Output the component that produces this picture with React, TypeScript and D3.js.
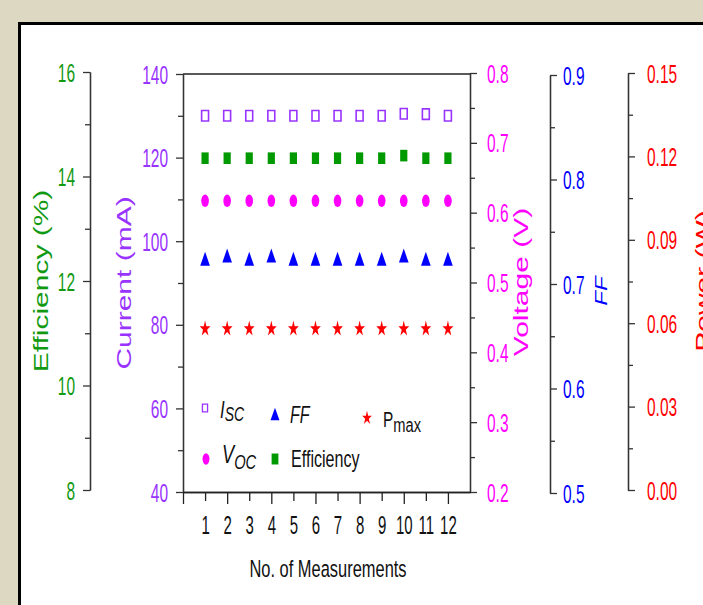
import { useEffect, useRef } from 'react';
import * as d3 from 'd3';

// readings for the 12 measurements
const measurements = [1, 2, 3, 4, 5, 6, 7, 8, 9, 10, 11, 12];
const isc = [130, 130, 130, 130, 130, 130, 130, 130, 130, 130.5, 130.4, 130];
const efficiency = [14.35, 14.35, 14.35, 14.35, 14.35, 14.35, 14.35, 14.35, 14.35, 14.4, 14.35, 14.35];
const voc = [0.617, 0.617, 0.617, 0.617, 0.617, 0.617, 0.617, 0.617, 0.617, 0.617, 0.617, 0.617];
const ff = [0.722, 0.725, 0.722, 0.725, 0.722, 0.722, 0.722, 0.722, 0.722, 0.725, 0.722, 0.722];
const pmax = [0.058, 0.058, 0.058, 0.058, 0.058, 0.058, 0.058, 0.058, 0.058, 0.058, 0.058, 0.058];

// tick values
const effTicks = [8, 10, 12, 14, 16];
const effMinor = [9, 11, 13, 15];
const currentTicks = [40, 60, 80, 100, 120, 140];
const currentMinor = [50, 70, 90, 110, 130];
const voltTicks = [0.2, 0.3, 0.4, 0.5, 0.6, 0.7, 0.8];
const voltMinor = [0.25, 0.35, 0.45, 0.55, 0.65, 0.75];
const ffTicks = [0.5, 0.6, 0.7, 0.8, 0.9];
const ffMinor = [0.55, 0.65, 0.75, 0.85];
const powerTicks = [0, 0.03, 0.06, 0.09, 0.12, 0.15];
const powerMinor = [0.015, 0.045, 0.075, 0.105, 0.135];
const xMajor = [0, 2, 4, 6, 8, 10, 12];
const xMinor = [1, 3, 5, 7, 9, 11];

const FONT = 'Liberation Sans, Arial, sans-serif';
const GREEN = '#119911';
const PURPLE = '#9933ff';
const MAGENTA = '#ff00ff';
const BLUE = '#0000ff';
const RED = '#ff0000';

const x = d3.scaleLinear().domain([0, 13]).range([183, 470]);
const yEff = d3.scaleLinear().domain([8, 16]).range([490, 72]);
const yCur = d3.scaleLinear().domain([40, 140]).range([492, 74]);
const yVolt = d3.scaleLinear().domain([0.2, 0.8]).range([492, 73]);
const yFF = d3.scaleLinear().domain([0.5, 0.9]).range([493, 75]);
const yPow = d3.scaleLinear().domain([0, 0.15]).range([490, 73]);

const sym = (type: d3.SymbolType, size: number) => d3.symbol().type(type).size(size)() as string;

const App = () => {
  const svgRef = useRef<SVGSVGElement>(null);

  useEffect(() => {
    const svg = d3.select(svgRef.current);

    const drawY = (cls: string, side: 'left' | 'right', scale: any, xPos: number, major: number[], minor: number[],
      fmt: (d: any) => string, color: string, labelDx: number) => {
      const axisFn = side === 'left' ? d3.axisLeft : d3.axisRight;
      const g = svg.select(cls).attr('transform', `translate(${xPos},0)`);
      g.selectAll('*').remove();
      g.append('g').call(axisFn(scale).tickValues(minor).tickSize(5).tickSizeOuter(0).tickFormat(() => ''));
      const mg = g.append('g').call(axisFn(scale).tickValues(major).tickSize(7).tickSizeOuter(0).tickFormat(fmt));
      g.selectAll('.domain').attr('stroke', '#333').attr('stroke-width', 1.3);
      g.selectAll('.tick line').attr('stroke', '#333').attr('stroke-width', 1.3);
      mg.selectAll('.tick text')
        .attr('x', 0)
        .attr('dy', '0.36em')
        .attr('fill', color)
        .attr('font-size', 25)
        .attr('font-family', FONT)
        .attr('text-anchor', side === 'left' ? 'end' : 'start')
        .attr('transform', `translate(${labelDx},0) scale(0.62,1)`);
    };

    drawY('.eff-axis', 'left', yEff, 90, effTicks, effMinor, (d) => String(d), GREEN, -15);
    drawY('.cur-axis', 'left', yCur, 183, currentTicks, currentMinor, (d) => String(d), PURPLE, -15);
    drawY('.volt-axis', 'right', yVolt, 470, voltTicks, voltMinor, d3.format('.1f'), MAGENTA, 17);
    drawY('.ff-axis', 'right', yFF, 550, ffTicks, ffMinor, d3.format('.1f'), BLUE, 13);
    drawY('.pow-axis', 'right', yPow, 628, powerTicks, powerMinor, d3.format('.2f'), RED, 19);

    const gx = svg.select('.x-axis').attr('transform', `translate(0,${yCur(40)})`);
    gx.selectAll('*').remove();
    const minorX = gx.append('g').call(d3.axisBottom(x).tickValues(xMinor).tickSize(9).tickSizeOuter(0).tickFormat((d) => String(d)));
    const majorX = gx.append('g').call(d3.axisBottom(x).tickValues(xMajor).tickSize(12).tickSizeOuter(0)
      .tickFormat((d) => (d === 0 ? '' : String(d))));
    gx.selectAll('.domain').attr('stroke', '#222').attr('stroke-width', 1.5);
    gx.selectAll('.tick line').attr('stroke', '#222').attr('stroke-width', 1.3);
    [minorX, majorX].forEach((g) =>
      g.selectAll('.tick text')
        .attr('y', 0)
        .attr('dy', 0)
        .attr('fill', '#111')
        .attr('font-size', 25)
        .attr('font-family', FONT)
        .attr('text-anchor', 'middle')
        .attr('transform', 'translate(0,42) scale(0.6,1)')
    );
  }, []);

  const rotLabel = (text: string, bx: number, cy: number, color: string, size = 30, italic = false) => (
    <text
      transform={`translate(${bx},${cy}) rotate(-90) scale(1,0.7)`}
      textAnchor="middle"
      fill={color}
      fontSize={size}
      fontStyle={italic ? 'italic' : 'normal'}
      fontFamily={FONT}
    >
      {text}
    </text>
  );

  return (
    <svg ref={svgRef} width={703} height={605} style={{ position: 'absolute', left: 0, top: 0 }}>
      <rect x={0} y={0} width={703} height={605} fill="#ddd8c2" />
      <rect x={19.5} y={23.5} width={800} height={800} fill="#fff" stroke="#000" strokeWidth={3} />

      <line x1={x(0)} x2={x(13)} y1={yCur(140)} y2={yCur(140)} stroke="#222" strokeWidth={1.5} />

      <g className="eff-axis" />
      <g className="cur-axis" />
      <g className="volt-axis" />
      <g className="ff-axis" />
      <g className="pow-axis" />
      <g className="x-axis" />

      {/* marks */}
      {measurements.map((m, i) => (
        <g key={m}>
          <path d={sym(d3.symbolSquare, 110)} transform={`translate(${x(m)},${yCur(isc[i])}) scale(0.66,1)`}
            fill="#fff" stroke={PURPLE} strokeWidth={1.6} vectorEffect="non-scaling-stroke" />
          <path d={sym(d3.symbolSquare, 135)} transform={`translate(${x(m)},${yEff(efficiency[i])}) scale(0.62,1)`} fill="#009900" />
          <path d={sym(d3.symbolCircle, 120)} transform={`translate(${x(m)},${yVolt(voc[i])}) scale(0.62,1)`} fill={MAGENTA} />
          <path d={sym(d3.symbolTriangle, 112)} transform={`translate(${x(m)},${yFF(ff[i])}) scale(0.6,1)`} fill={BLUE} />
          <path d={sym(d3.symbolStar, 78)} transform={`translate(${x(m)},${yPow(pmax[i])}) scale(0.68,1)`} fill={RED} />
        </g>
      ))}

      {/* legend */}
      <g fontFamily={FONT} fill="#111">
        <path d={sym(d3.symbolSquare, 60)} transform="translate(205,408) scale(0.66,1)" fill="#fff" stroke={PURPLE}
          strokeWidth={1.3} vectorEffect="non-scaling-stroke" />
        <g transform="translate(220,418) scale(0.7,1)">
          <text fontStyle="italic" fontSize={24}>I<tspan fontSize={20} dy={3}>SC</tspan></text>
        </g>
        <path d={sym(d3.symbolCircle, 100)} transform="translate(206,459) scale(0.62,1)" fill={MAGENTA} />
        <g transform="translate(222,463) scale(0.7,1)">
          <text fontStyle="italic" fontSize={26}>V<tspan fontSize={21} dy={6}>OC</tspan></text>
        </g>
        <path d={sym(d3.symbolTriangle, 90)} transform="translate(275,416) scale(0.62,1)" fill={BLUE} />
        <g transform="translate(290,423) scale(0.7,1)">
          <text fontStyle="italic" fontSize={23}>FF</text>
        </g>
        <path d={sym(d3.symbolSquare, 120)} transform="translate(275,459) scale(0.62,1)" fill="#009900" />
        <g transform="translate(291,467) scale(0.7,1)">
          <text fontSize={23}>Efficiency</text>
        </g>
        <path d={sym(d3.symbolStar, 60)} transform="translate(367,418) scale(0.7,1)" fill={RED} />
        <g transform="translate(383,427) scale(0.7,1)">
          <text fontSize={22}>P<tspan fontSize={21} dy={5}>max</tspan></text>
        </g>
      </g>

      {/* axis titles */}
      {rotLabel('Efficiency (%)', 48, 281, GREEN)}
      {rotLabel('Current (mA)', 131, 283, PURPLE)}
      {rotLabel('Voltage (V)', 528, 282, MAGENTA)}
      {rotLabel('FF', 607, 291, BLUE, 24, true)}
      {rotLabel('Power (W)', 710, 281, RED)}

      <g transform="translate(328,577) scale(0.7,1)">
        <text textAnchor="middle" fontSize={23.5} fontFamily={FONT} fill="#111">No. of Measurements</text>
      </g>
    </svg>
  );
};

export default App;
